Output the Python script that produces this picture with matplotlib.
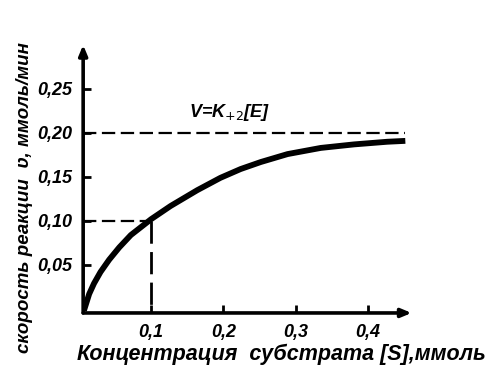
import matplotlib
matplotlib.use('Agg')
import matplotlib.pyplot as plt

plt.rcParams['font.family'] = ['Liberation Sans Narrow', 'Liberation Sans', 'DejaVu Sans']
plt.rcParams['mathtext.fontset'] = 'dejavusans'

# substrate concentration, mmol and rate, mmol/min
s_conc = [0.007, 0.0097, 0.0143, 0.021, 0.030, 0.042, 0.056, 0.072, 0.1, 0.127, 0.164,
          0.196, 0.224, 0.252, 0.289, 0.335, 0.381, 0.427, 0.452]
rate = [-0.002, 0.005, 0.017, 0.029, 0.042, 0.056, 0.070, 0.084, 0.102, 0.117, 0.135,
        0.149, 0.159, 0.167, 0.176, 0.183, 0.187, 0.190, 0.191]

v_max = 0.20
km = 0.1
v_half = 0.10

x_ticks = [0.1, 0.2, 0.3, 0.4]
x_labels = ['0,1', '0,2', '0,3', '0,4']
y_ticks = [0.05, 0.10, 0.15, 0.20, 0.25]
y_labels = ['0,05', '0,10', '0,15', '0,20', '0,25']

fig = plt.figure(figsize=(5.04, 3.84), dpi=100)
ax = fig.add_axes([0.165, 0.185, 0.665, 0.698])
ax.set_xlim(0.006, 0.47)
ax.set_ylim(-0.0045, 0.30)

ax.plot(s_conc, rate, color='black', lw=4.2, solid_capstyle='butt', solid_joinstyle='round')
ax.plot([0.006, 0.452], [v_max, v_max], color='black', lw=1.6, dashes=(6, 2.5))
ax.plot([0.006, km], [v_half, v_half], color='black', lw=1.6, dashes=(6, 2.5))
ax.plot([km, km], [v_half, 0], color='black', lw=2.0, dashes=(8, 3))

ax.text(0.152, 0.211, r'V=K$_{+2}$[E]', fontsize=13, fontweight='bold',
        fontstyle='italic', ha='left', va='bottom')

for s in ax.spines.values():
    s.set_visible(False)
ax.annotate('', xy=(0.98, 0), xytext=(0, 0), xycoords='axes fraction',
            arrowprops=dict(arrowstyle='-|>,head_length=0.6,head_width=0.25', lw=2.6, color='black',
                            shrinkA=0, shrinkB=0))
ax.annotate('', xy=(0, 1.0), xytext=(0, 0), xycoords='axes fraction',
            arrowprops=dict(arrowstyle='-|>,head_length=0.6,head_width=0.25', lw=2.6, color='black',
                            shrinkA=0, shrinkB=0))

ax.set_xticks(x_ticks)
ax.set_xticklabels(x_labels)
ax.set_yticks(y_ticks)
ax.set_yticklabels(y_labels)
ax.tick_params(direction='in', length=6, width=2, labelsize=13, pad=8)
for lab in ax.get_xticklabels() + ax.get_yticklabels():
    lab.set_fontweight('bold')
    lab.set_fontstyle('italic')

ax.set_xlabel('Концентрация  субстрата [S],ммоль', fontsize=15.5, fontweight='bold',
              fontstyle='italic')
ax.xaxis.set_label_coords(0.59, -0.115)
ax.set_ylabel('скорость реакции  ʋ, ммоль/мин', fontsize=13.5, fontweight='bold',
              fontstyle='italic')
ax.yaxis.set_label_coords(-0.15, 0.43)

fig.savefig('out.png', dpi=100)
